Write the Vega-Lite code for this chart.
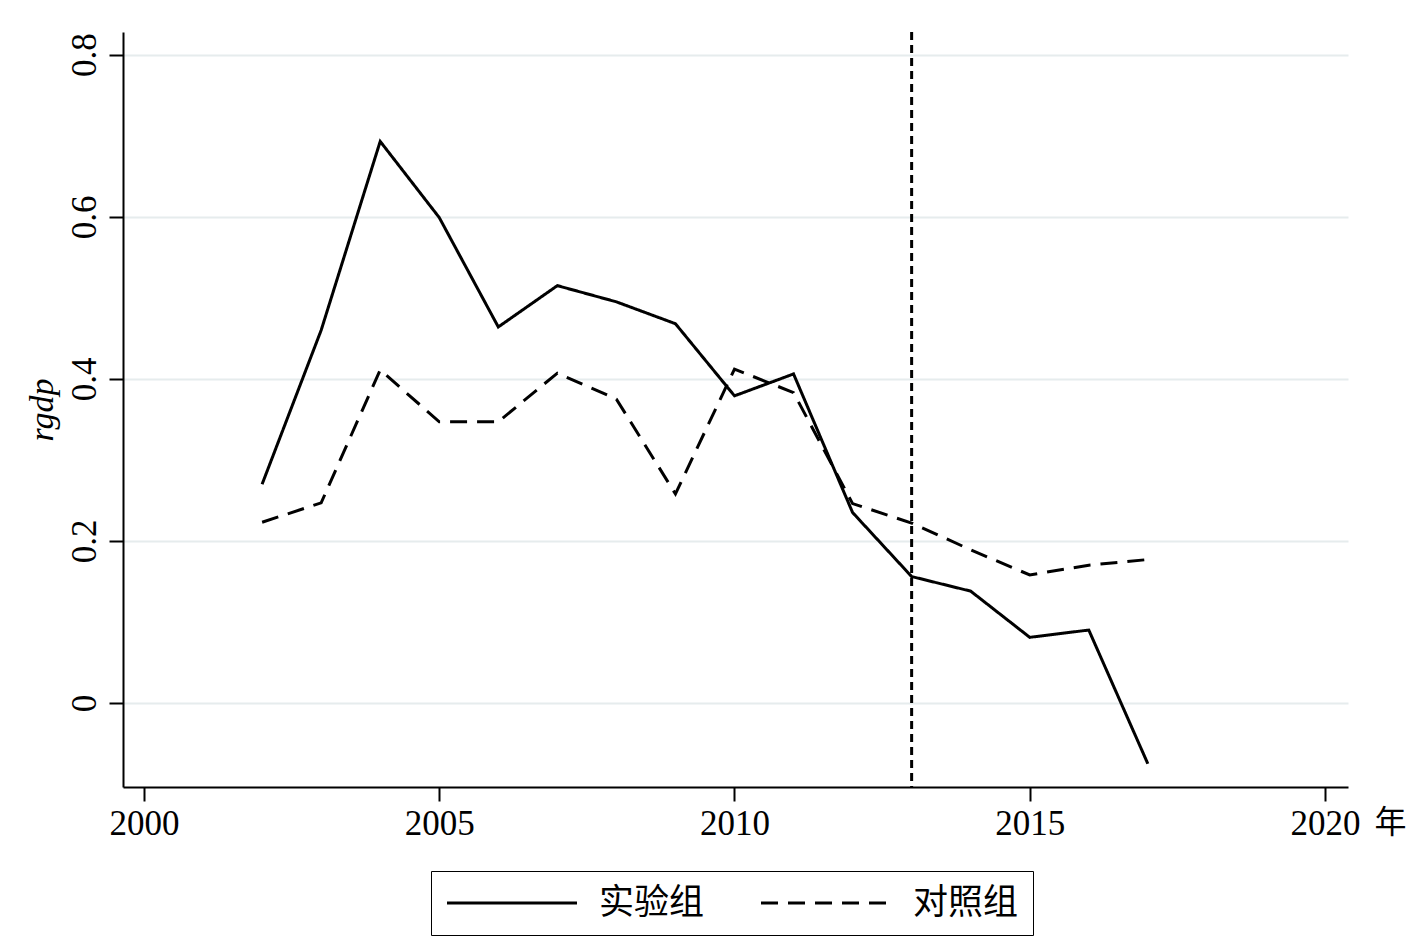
{
  "$schema": "https://vega.github.io/schema/vega-lite/v6.json",
  "width": 1225,
  "height": 755,
  "autosize": {"type": "none"},
  "padding": {"left": 123, "top": 32, "right": 78, "bottom": 164},
  "background": "white",
  "config": {
    "view": {"stroke": null},
    "font": "Liberation Serif, Noto Sans CJK SC",
    "axis": {
      "domainColor": "black",
      "domainWidth": 2,
      "tickColor": "black",
      "tickWidth": 2,
      "tickSize": 14,
      "labelFont": "Liberation Serif",
      "labelFontSize": 35,
      "labelColor": "black",
      "titleColor": "black",
      "titleFontWeight": "normal",
      "gridColor": "#e6eced",
      "gridWidth": 2
    },
    "legend": {
      "labelFont": "Liberation Serif, Noto Sans CJK SC",
      "labelFontSize": 35,
      "labelColor": "black"
    }
  },
  "datasets": {
    "series": [
      {"year": 2002, "group": "实验组", "rgdp": 0.270},
      {"year": 2003, "group": "实验组", "rgdp": 0.460},
      {"year": 2004, "group": "实验组", "rgdp": 0.693},
      {"year": 2005, "group": "实验组", "rgdp": 0.599},
      {"year": 2006, "group": "实验组", "rgdp": 0.464},
      {"year": 2007, "group": "实验组", "rgdp": 0.515},
      {"year": 2008, "group": "实验组", "rgdp": 0.495},
      {"year": 2009, "group": "实验组", "rgdp": 0.468},
      {"year": 2010, "group": "实验组", "rgdp": 0.379},
      {"year": 2011, "group": "实验组", "rgdp": 0.406},
      {"year": 2012, "group": "实验组", "rgdp": 0.235},
      {"year": 2013, "group": "实验组", "rgdp": 0.156},
      {"year": 2014, "group": "实验组", "rgdp": 0.138},
      {"year": 2015, "group": "实验组", "rgdp": 0.081},
      {"year": 2016, "group": "实验组", "rgdp": 0.090},
      {"year": 2017, "group": "实验组", "rgdp": -0.075},
      {"year": 2002, "group": "对照组", "rgdp": 0.223},
      {"year": 2003, "group": "对照组", "rgdp": 0.247},
      {"year": 2004, "group": "对照组", "rgdp": 0.411},
      {"year": 2005, "group": "对照组", "rgdp": 0.347},
      {"year": 2006, "group": "对照组", "rgdp": 0.347},
      {"year": 2007, "group": "对照组", "rgdp": 0.407},
      {"year": 2008, "group": "对照组", "rgdp": 0.375},
      {"year": 2009, "group": "对照组", "rgdp": 0.258},
      {"year": 2010, "group": "对照组", "rgdp": 0.412},
      {"year": 2011, "group": "对照组", "rgdp": 0.383},
      {"year": 2012, "group": "对照组", "rgdp": 0.246},
      {"year": 2013, "group": "对照组", "rgdp": 0.222},
      {"year": 2014, "group": "对照组", "rgdp": 0.189},
      {"year": 2015, "group": "对照组", "rgdp": 0.158},
      {"year": 2016, "group": "对照组", "rgdp": 0.170},
      {"year": 2017, "group": "对照组", "rgdp": 0.177}
    ],
    "policy": [{"year": 2013}]
  },
  "layer": [
    {
      "data": {"name": "series"},
      "mark": {"type": "line", "color": "black", "strokeWidth": 3},
      "encoding": {
        "x": {
          "field": "year",
          "type": "quantitative",
          "scale": {"domain": [1999.644, 2020.39], "nice": false, "zero": false},
          "axis": {
            "values": [2000, 2005, 2010, 2015, 2020],
            "format": "d",
            "grid": false,
            "labelPadding": 5,
            "title": "年",
            "titleFont": "Noto Sans CJK SC",
            "titleFontSize": 32,
            "titleAngle": 0,
            "titleAlign": "center",
            "titleBaseline": "middle",
            "titleX": 1267,
            "titleY": 35
          }
        },
        "y": {
          "field": "rgdp",
          "type": "quantitative",
          "scale": {"domain": [-0.1037, 0.828], "nice": false, "zero": false},
          "axis": {
            "values": [0, 0.2, 0.4, 0.6, 0.8],
            "format": "~g",
            "grid": true,
            "labelAngle": -90,
            "labelAlign": "center",
            "labelBaseline": "bottom",
            "labelPadding": 7,
            "title": "rgdp",
            "titleFont": "Liberation Serif",
            "titleFontStyle": "italic",
            "titleFontSize": 34,
            "titlePadding": 8
          }
        },
        "strokeDash": {
          "field": "group",
          "type": "nominal",
          "scale": {"domain": ["实验组", "对照组"], "range": [[1, 0], [17, 10]]},
          "legend": {
            "title": null,
            "orient": "none",
            "legendX": 308,
            "legendY": 839,
            "direction": "horizontal",
            "symbolType": "M-4,0H4",
            "symbolSize": 1056,
            "symbolStrokeWidth": 3,
            "symbolStrokeColor": "black",
            "symbolOffset": 49,
            "strokeColor": "black",
            "padding": 14,
            "columnPadding": 50,
            "labelOffset": 69
          }
        }
      }
    },
    {
      "data": {"name": "policy"},
      "mark": {"type": "rule", "color": "black", "strokeWidth": 3, "strokeDash": [8, 5]},
      "encoding": {
        "x": {"field": "year", "type": "quantitative"}
      }
    }
  ]
}
